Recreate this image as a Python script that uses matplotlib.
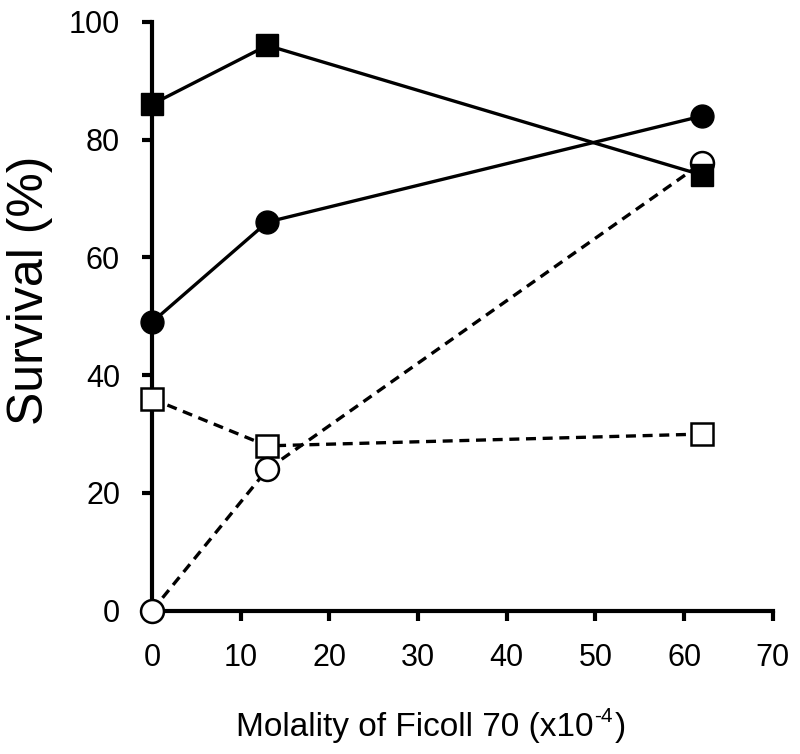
import matplotlib
matplotlib.use("Agg")
import matplotlib.pyplot as plt

plt.rcParams['font.family'] = ['Liberation Sans', 'DejaVu Sans']

x = [0, 13, 62]
filled_squares = [86, 96, 74]
filled_circles = [49, 66, 84]
open_circles = [0, 24, 76]
open_squares = [36, 28, 30]

xticks = [0, 10, 20, 30, 40, 50, 60, 70]
yticks = [0, 20, 40, 60, 80, 100]

fig = plt.figure(figsize=(8.0, 7.54), dpi=100)
ax = fig.add_axes([0.19, 0.19, 0.776, 0.781])

ms = 16
lw = 2.4
ax.plot(x, open_squares, ls=(0, (3, 2)), color='black', lw=lw, marker='s', ms=ms,
        mfc='white', mec='black', mew=1.8, clip_on=False, zorder=3)
ax.plot(x, open_circles, ls=(0, (3, 2)), color='black', lw=lw, marker='o', ms=ms + 0.5,
        mfc='white', mec='black', mew=1.8, clip_on=False, zorder=4)
ax.plot(x, filled_circles, ls='-', color='black', lw=lw, marker='o', ms=ms + 0.5,
        mfc='black', mec='black', clip_on=False, zorder=5)
ax.plot(x, filled_squares, ls='-', color='black', lw=lw, marker='s', ms=ms,
        mfc='black', mec='black', clip_on=False, zorder=6)

ax.set_xlim(0, 70)
ax.set_ylim(0, 100)
ax.set_xticks(xticks)
ax.set_yticks(yticks)
ax.spines['top'].set_visible(False)
ax.spines['right'].set_visible(False)
for s in ['left', 'bottom']:
    ax.spines[s].set_linewidth(3)
ax.tick_params(direction='out', length=7, width=3, labelsize=22, pad=16)

# x label with raised "-4"
t1 = fig.text(0.518, 0.0239, 'Molality of Ficoll 70 (x10', fontsize=24,
              ha='center', va='baseline')
t2 = ax.annotate('-4', xy=(1, 0), xycoords=t1, xytext=(1, 12),
                 textcoords='offset points', fontsize=15, ha='left', va='bottom',
                 annotation_clip=False)
t3 = ax.annotate(')', xy=(1, 0), xycoords=(t2, t1), xytext=(1, 0),
                 textcoords='offset points', fontsize=24, ha='left', va='bottom',
                 annotation_clip=False)

fig.text(0.038, 0.615, 'Survival (%)', fontsize=36, rotation=90,
         ha='center', va='center')

fig.savefig('out.png', dpi=100)
